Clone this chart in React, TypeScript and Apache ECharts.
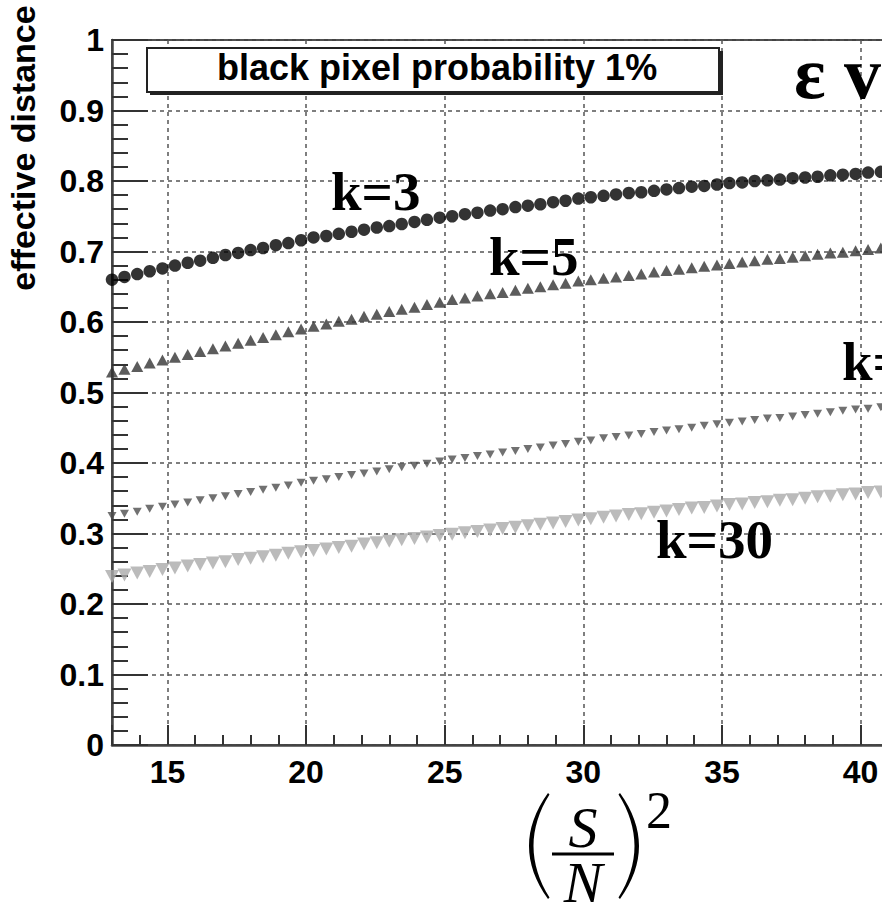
import React, { useEffect, useRef } from "react";
import * as echarts from "echarts";

// (S/N)^2 sample points
const xValues = [
  13.0, 13.45, 13.91, 14.36, 14.82, 15.27, 15.73, 16.18, 16.64, 17.09, 17.55,
  18.0, 18.45, 18.91, 19.36, 19.82, 20.27, 20.73, 21.18, 21.64, 22.09, 22.55,
  23.0, 23.45, 23.91, 24.36, 24.82, 25.27, 25.73, 26.18, 26.64, 27.09, 27.55,
  28.0, 28.45, 28.91, 29.36, 29.82, 30.27, 30.73, 31.18, 31.64, 32.09, 32.55,
  33.0, 33.45, 33.91, 34.36, 34.82, 35.27, 35.73, 36.18, 36.64, 37.09, 37.55,
  38.0, 38.45, 38.91, 39.36, 39.82, 40.27, 40.73, 41.18,
];

// effective distance, k = 3
const k3 = [
  0.66, 0.664, 0.668, 0.672, 0.676, 0.68, 0.684, 0.687, 0.691, 0.695, 0.698,
  0.702, 0.705, 0.709, 0.712, 0.716, 0.72, 0.722, 0.725, 0.728, 0.731, 0.734,
  0.736, 0.739, 0.742, 0.745, 0.748, 0.75, 0.753, 0.755, 0.758, 0.76, 0.763,
  0.765, 0.767, 0.77, 0.772, 0.775, 0.777, 0.779, 0.781, 0.783, 0.784, 0.786,
  0.788, 0.79, 0.792, 0.793, 0.795, 0.797, 0.798, 0.8, 0.801, 0.802, 0.804,
  0.805, 0.806, 0.808, 0.809, 0.81, 0.812, 0.813, 0.814,
];

// effective distance, k = 5
const k5 = [
  0.529, 0.533, 0.537, 0.542, 0.546, 0.55, 0.554, 0.558, 0.562, 0.566, 0.57,
  0.574, 0.578, 0.582, 0.586, 0.59, 0.594, 0.597, 0.601, 0.604, 0.608, 0.611,
  0.615, 0.618, 0.621, 0.625, 0.628, 0.632, 0.634, 0.637, 0.64, 0.642, 0.645,
  0.648, 0.65, 0.653, 0.655, 0.658, 0.66, 0.662, 0.664, 0.666, 0.668, 0.671,
  0.673, 0.675, 0.677, 0.679, 0.681, 0.683, 0.685, 0.687, 0.689, 0.69, 0.692,
  0.694, 0.696, 0.698, 0.699, 0.701, 0.703, 0.705, 0.706,
];

// effective distance, k = 10
const k10 = [
  0.325, 0.328, 0.331, 0.335, 0.338, 0.341, 0.344, 0.347, 0.35, 0.353, 0.356,
  0.359, 0.362, 0.365, 0.368, 0.372, 0.375, 0.377, 0.38, 0.383, 0.385, 0.388,
  0.391, 0.394, 0.396, 0.399, 0.402, 0.405, 0.407, 0.41, 0.412, 0.415, 0.417,
  0.42, 0.422, 0.425, 0.427, 0.43, 0.432, 0.435, 0.437, 0.439, 0.441, 0.444,
  0.446, 0.448, 0.45, 0.453, 0.455, 0.457, 0.459, 0.461, 0.463, 0.464, 0.466,
  0.468, 0.47, 0.472, 0.474, 0.476, 0.477, 0.479, 0.481,
];

// effective distance, k = 30
const k30 = [
  0.239, 0.241, 0.244, 0.246, 0.249, 0.251, 0.254, 0.256, 0.258, 0.26, 0.263,
  0.265, 0.267, 0.269, 0.272, 0.274, 0.276, 0.278, 0.28, 0.282, 0.285, 0.287,
  0.289, 0.291, 0.293, 0.295, 0.297, 0.299, 0.301, 0.303, 0.305, 0.307, 0.309,
  0.311, 0.313, 0.315, 0.317, 0.319, 0.321, 0.323, 0.325, 0.327, 0.328, 0.33,
  0.332, 0.334, 0.336, 0.337, 0.339, 0.341, 0.342, 0.344, 0.345, 0.347, 0.348,
  0.35, 0.352, 0.353, 0.355, 0.356, 0.358, 0.359, 0.361,
];

const curveLabels = ["k=3", "k=5", "k=10", "k=30"];
const legendText = "black pixel probability 1%";
const yTitle = "effective distance";
const plotTitle = "ε vs";

// left parenthesis outline, 21 x 106 local units
const PAREN_D =
  "M19 0 C6 18 0 36 0 53 C0 70 6 88 19 106 L20.5 104.5 C10 88 4.5 70 4.5 53 C4.5 36 10 18 20.5 1.5 Z";
echarts.graphic.registerShape("paren", echarts.graphic.extendPath(PAREN_D, {}));

const SANS = "'Liberation Sans', Arial, Helvetica, sans-serif";
const SERIF = "'Liberation Serif', 'Times New Roman', serif";

function pairs(ys: number[]) {
  return xValues.map((x, i) => [x, ys[i]]);
}

function txt(
  text: string,
  x: number,
  y: number,
  size: number,
  opts: {
    family?: string;
    weight?: string;
    italic?: boolean;
    align?: string;
    rotation?: number;
    lineHeight?: number;
  } = {}
) {
  const align = opts.align || "left";
  return {
    type: "text",
    x,
    y,
    rotation: opts.rotation || 0,
    z: 100,
    style: {
      text,
      fill: "#000",
      fontSize: size,
      fontFamily: opts.family || SERIF,
      fontWeight: opts.weight || "normal",
      fontStyle: opts.italic ? "italic" : "normal",
      lineHeight: opts.lineHeight || size,
      align,
      textAlign: align,
      verticalAlign: "middle",
      textVerticalAlign: "middle",
    },
  };
}

export default function App() {
  const ref = useRef<HTMLDivElement>(null);

  useEffect(() => {
    if (!ref.current) return;
    const chart = echarts.init(ref.current, undefined, { renderer: "svg" });

    const tickStyle = { color: "#333", width: 2 };
    const gridLine = { color: "#555", width: 1.5, type: [4, 4] as number[] };
    const labelFont = {
      fontFamily: SANS,
      fontWeight: "bold" as const,
      fontSize: 32,
      color: "#000",
    };

    chart.setOption({
      animation: false,
      backgroundColor: "#fff",
      grid: {
        left: 112,
        top: 40,
        width: 889.6,
        height: 705,
        show: true,
        borderColor: "#444",
        borderWidth: 2,
        backgroundColor: "transparent",
      },
      xAxis: {
        type: "value",
        min: 13,
        max: 45,
        splitNumber: 6,
        axisLine: { show: true, onZero: false, lineStyle: { color: "#444", width: 2.5 } },
        axisTick: { show: true, inside: true, length: 20, lineStyle: tickStyle },
        minorTick: { show: true, splitNumber: 5, length: 10, lineStyle: tickStyle },
        axisLabel: { ...labelFont, showMinLabel: false, margin: 11 },
        splitLine: { show: true, lineStyle: gridLine },
      },
      yAxis: {
        type: "value",
        min: 0,
        max: 1,
        interval: 0.1,
        axisLine: { show: true, lineStyle: { color: "#444", width: 2.5 } },
        axisTick: { show: true, inside: true, length: 36, lineStyle: tickStyle },
        minorTick: { show: true, splitNumber: 5, length: 16, lineStyle: tickStyle },
        axisLabel: { ...labelFont, margin: 8 },
        splitLine: { show: true, lineStyle: gridLine },
      },
      series: [
        {
          name: curveLabels[3],
          type: "scatter",
          data: pairs(k30),
          symbol: "triangle",
          symbolRotate: 180,
          symbolSize: [14, 13],
          itemStyle: { color: "#aaa" },
          silent: true,
          z: 2,
        },
        {
          name: curveLabels[2],
          type: "scatter",
          data: pairs(k10),
          symbol: "triangle",
          symbolRotate: 180,
          symbolSize: [9, 8],
          itemStyle: { color: "#4d4d4d" },
          silent: true,
          z: 3,
        },
        {
          name: curveLabels[1],
          type: "scatter",
          data: pairs(k5),
          symbol: "triangle",
          symbolSize: [12, 11],
          itemStyle: { color: "#333" },
          silent: true,
          z: 4,
        },
        {
          name: curveLabels[0],
          type: "scatter",
          data: pairs(k3),
          symbol: "circle",
          symbolSize: 12.5,
          itemStyle: { color: "#000" },
          silent: true,
          z: 5,
        },
      ],
      graphic: [
        // legend box with drop shadow
        { type: "rect", z: 90, shape: { x: 150, y: 51, width: 573, height: 44 }, style: { fill: "#222" } },
        {
          type: "rect",
          z: 91,
          shape: { x: 147, y: 48, width: 572, height: 44 },
          style: { fill: "#fff", stroke: "#222", lineWidth: 2 },
        },
        txt(legendText, 217, 67.5, 36, { family: SANS, weight: "bold" }),
        // title (runs past the right edge)
        txt(plotTitle, 794, 73, 74, { weight: "bold" }),
        // curve labels
        txt(curveLabels[0], 331, 191, 55, { weight: "bold" }),
        txt(curveLabels[1], 489, 256, 55, { weight: "bold" }),
        txt(curveLabels[2], 842, 361, 55, { weight: "bold" }),
        txt(curveLabels[3], 656, 539, 55, { weight: "bold" }),
        // y-axis title
        txt(yTitle, 23, 148, 34, { family: SANS, weight: "bold", align: "center", rotation: Math.PI / 2 }),
        // x-axis title: (S/N)^2
        { type: "paren", z: 100, x: 529, y: 793, style: { fill: "#000" } },
        { type: "paren", z: 100, x: 639, y: 793, scaleX: -1, style: { fill: "#000" } },
        txt("S\nN", 583, 854.5, 58, { italic: true, align: "center", lineHeight: 55 }),
        {
          type: "line",
          z: 100,
          shape: { x1: 552, y1: 854, x2: 614, y2: 854 },
          style: { stroke: "#000", lineWidth: 3 },
        },
        txt("2", 659, 810, 52, { align: "center" }),
      ],
    });

    return () => chart.dispose();
  }, []);

  return (
    <div
      style={{
        position: "fixed",
        left: 0,
        top: 0,
        width: 882,
        height: 903,
        overflow: "hidden",
        background: "#fff",
      }}
    >
      <div ref={ref} style={{ width: 1020, height: 903 }} />
    </div>
  );
}
